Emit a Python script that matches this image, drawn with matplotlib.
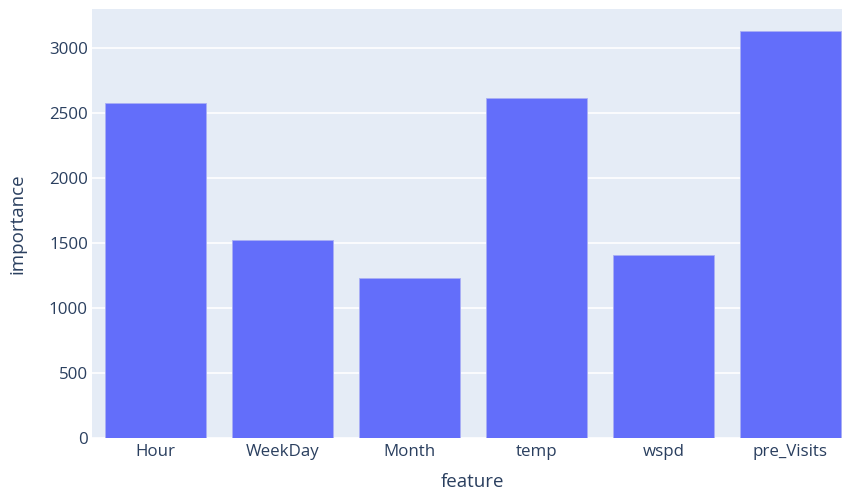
import matplotlib
matplotlib.use("Agg")
from matplotlib import pyplot as plt

# feature importance values
features = ['Hour', 'WeekDay', 'Month', 'temp', 'wspd', 'pre_Visits']
importance = [2575, 1525, 1233, 2613, 1408, 3131]
y_ticks = [0, 500, 1000, 1500, 2000, 2500, 3000]

plt.rcParams['font.family'] = ['Open Sans', 'DejaVu Sans']
text_col = '#2a3f5f'

fig = plt.figure(figsize=(8.42, 4.93), dpi=100)
# plot area runs a bit past the right edge of the picture
ax = fig.add_axes([92 / 842, 1 - 438 / 493, 762 / 842, 429 / 493])
ax.set_facecolor('#E5ECF6')

ax.bar(range(len(features)), importance, width=0.8, color='#636EFA',
       edgecolor='#A9AFF5', linewidth=0.6, zorder=3)

ax.set_xlim(-0.5, len(features) - 0.5)
ax.set_ylim(0, 3300)
ax.set_yticks(y_ticks)
ax.set_xticks(range(len(features)))
ax.set_xticklabels(features)
ax.grid(axis='y', color='white', linewidth=1.2, zorder=0)
ax.set_axisbelow(True)
for s in ax.spines.values():
    s.set_visible(False)
ax.tick_params(axis='both', length=0, labelsize=12.2, labelcolor=text_col)
ax.tick_params(axis='y', pad=3)
ax.tick_params(axis='x', pad=4)

ax.set_xlabel('feature', fontsize=13.5, color=text_col, labelpad=10)
ax.set_ylabel('importance', fontsize=13.5, color=text_col, labelpad=16)

fig.savefig('out.png', dpi=100)
